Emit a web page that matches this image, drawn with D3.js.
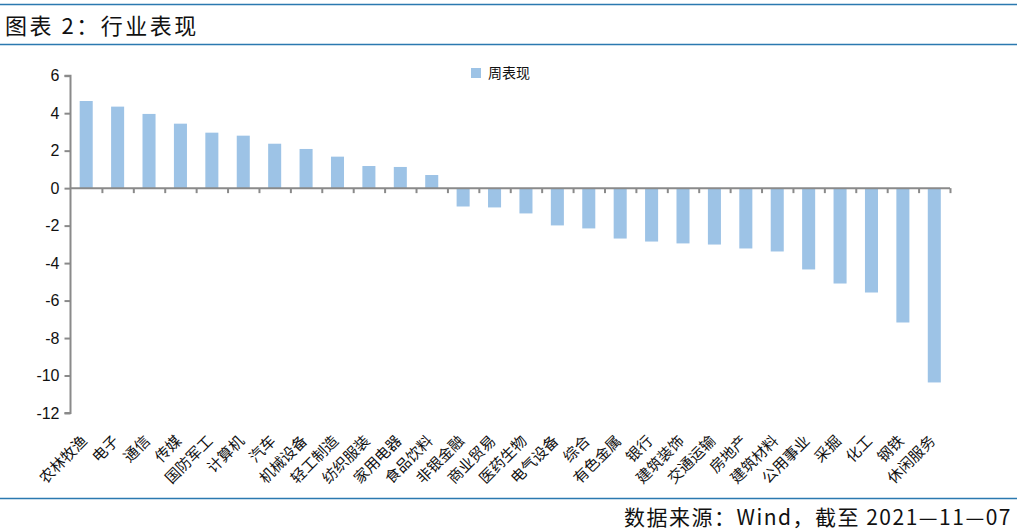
<!DOCTYPE html>
<html><head><meta charset="utf-8">
<script src="https://cdn.jsdelivr.net/npm/d3@7"></script>
<style>body{margin:0;background:#fff}svg{display:block}</style>
</head><body>
<svg id="c" width="1017" height="532"></svg>
<script>
const categories = ["农林牧渔","电子","通信","传媒","国防军工","计算机","汽车","机械设备","轻工制造","纺织服装","家用电器","食品饮料","非银金融","商业贸易","医药生物","电气设备","综合","有色金属","银行","建筑装饰","交通运输","房地产","建筑材料","公用事业","采掘","化工","钢铁","休闲服务"];
const weekly = [4.65,4.35,3.96,3.44,2.96,2.80,2.37,2.09,1.68,1.18,1.13,0.70,-0.98,-1.03,-1.35,-1.99,-2.15,-2.69,-2.85,-2.95,-3.01,-3.22,-3.38,-4.34,-5.09,-5.57,-7.17,-10.37];
const yTicks = [6,4,2,0,-2,-4,-6,-8,-10,-12];
const seriesName = "周表现";
const titleText = "图表 2：行业表现";
const sourceText = "数据来源：Wind，截至 2021—11—07";

const svg = d3.select("#c");
const W = 1017;
const mLeft = 70.5, mRight = 950, mTop = 75.7, mBottom = 413;
const barColor = "#9dc3e6", axisColor = "#8a8a8a", lineColor = "#2b79b0";
const cjk = "'Noto Sans CJK SC','Noto Sans',sans-serif";

// header / footer rules
[4.5, 44.5, 498.5].forEach(yy => svg.append("line").attr("x1",0).attr("x2",W).attr("y1",yy).attr("y2",yy)
  .attr("stroke",lineColor).attr("stroke-width",1.5));
svg.append("text").attr("x",5).attr("y",34).attr("font-family",cjk).attr("font-size",22)
  .attr("letter-spacing",2.5).attr("fill","#111").text(titleText);
svg.append("text").attr("x",1012).attr("y",525).attr("text-anchor","end").attr("font-family",cjk)
  .attr("font-size",21).attr("letter-spacing",1.5).attr("fill","#111").text(sourceText);

const x = d3.scaleBand().domain(categories).range([mLeft,mRight]).paddingInner(0.585).paddingOuter(0.2925);
const xb = d3.scaleLinear().domain([0,categories.length]).range([mLeft,mRight]);
const y = d3.scaleLinear().domain([-12,6]).range([mBottom,mTop]);

// bars
svg.append("g").selectAll("rect").data(weekly).join("rect")
  .attr("x",(d,i)=>x(categories[i]))
  .attr("width",x.bandwidth())
  .attr("y",d=>y(Math.max(0,d)))
  .attr("height",d=>Math.abs(y(d)-y(0)))
  .attr("fill",barColor);

// y axis
const ya = svg.append("g").attr("transform",`translate(${mLeft},0)`)
  .call(d3.axisLeft(y).tickValues(yTicks).tickSize(6).tickPadding(5).tickFormat(d3.format("d")));
ya.select(".domain").attr("stroke",axisColor).attr("stroke-width",2).attr("d",`M-6,${y(6)}H0V${y(-12)}H-6`);
ya.selectAll(".tick line").attr("stroke",axisColor).attr("stroke-width",2);
ya.selectAll(".tick text").attr("font-family","'Liberation Sans',Arial,sans-serif").attr("font-size",16).attr("fill","#111")
  .text(d=>d<0?"-"+Math.abs(d):d);

// x axis at zero
const xa = svg.append("g").attr("transform",`translate(0,${y(0)})`)
  .call(d3.axisBottom(xb).tickValues(d3.range(1,categories.length+1)).tickSize(5).tickFormat(""));
xa.select(".domain").attr("stroke",axisColor).attr("stroke-width",2).attr("d",`M${mLeft},0H${mRight}`);
xa.selectAll(".tick line").attr("stroke",axisColor).attr("stroke-width",2);

// category labels
svg.append("g").selectAll("text").data(categories).join("text")
  .attr("transform",d=>`translate(${x(d)+x.bandwidth()/2+2},${442}) rotate(-45)`)
  .attr("text-anchor","end").attr("font-family",cjk).attr("font-size",15).attr("fill","#111")
  .text(d=>d);

// legend
const lg = svg.append("g").attr("transform","translate(471,68)");
lg.append("rect").attr("width",10).attr("height",10).attr("fill",barColor);
lg.append("text").attr("x",17).attr("y",10).attr("font-family",cjk).attr("font-size",14).attr("fill","#111").text(seriesName);
</script>
</body></html>
